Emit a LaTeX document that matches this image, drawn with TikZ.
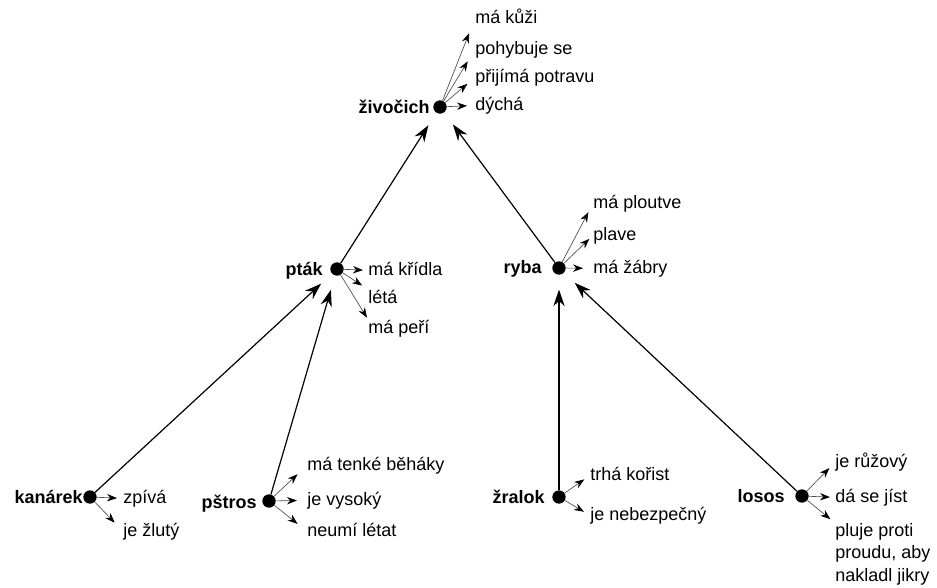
\documentclass[tikz,border=0pt]{standalone}
\usepackage{fontspec}
\setmainfont{Liberation Sans}
\usetikzlibrary{arrows.meta}

\begin{document}
\begin{tikzpicture}[x=0.75pt,y=-0.75pt,font=\fontsize{13.5}{18}\selectfont,
  dot/.style={circle,fill=black,inner sep=0pt,minimum size=10pt},
  objname/.style={font=\fontsize{13.5}{18}\selectfont\bfseries,anchor=base east,inner sep=0pt},
  prop/.style={anchor=base west,inner sep=0pt,text height=10pt,text depth=3pt},
  isa/.style={line width=0.9pt,-{Stealth[length=12.5pt,width=8.5pt]},shorten >=11pt},
  has/.style={line width=0.5pt,draw=black!70,-{Stealth[length=7.5pt,width=5.5pt,color=black]}}]

\useasboundingbox (0,0) rectangle (937,587);

% objekty
\node[dot] (zivocich) at (440,107) {};
\node[dot] (ptak) at (337,269) {};
\node[dot] (ryba) at (559,268) {};
\node[dot] (kanarek) at (90,497) {};
\node[dot] (pstros) at (269,501) {};
\node[dot] (zralok) at (559,497) {};
\node[dot] (losos) at (802,496) {};

\node[objname] (zivocich-n) at (430,113) {živočich};
\node[objname] (ptak-n) at (323,275) {pták};
\node[objname] (ryba-n) at (542,273) {ryba};
\node[objname] (kanarek-n) at (83,503) {kanárek};
\node[objname] (pstros-n) at (257,508) {pštros};
\node[objname] (zralok-n) at (545,503) {žralok};
\node[objname] (losos-n) at (785,502) {losos};

% vlastnosti
\node[prop] (p-kuzi) at (475,23) {má kůži};
\node[prop] (p-pohyb) at (475,54) {pohybuje se};
\node[prop] (p-potrava) at (475,82) {přijímá potravu};
\node[prop] (p-dycha) at (475,110) {dýchá};
\node[prop] (p-kridla) at (368,275) {má křídla};
\node[prop] (p-leta) at (368,303) {létá};
\node[prop] (p-peri) at (368,333) {má peří};
\node[prop] (p-ploutve) at (593,208) {má ploutve};
\node[prop] (p-plave) at (593,240) {plave};
\node[prop] (p-zabry) at (593,273) {má žábry};
\node[prop] (p-zpiva) at (123,503) {zpívá};
\node[prop] (p-zluty) at (123,536) {je žlutý};
\node[prop] (p-behaky) at (307,470) {má tenké běháky};
\node[prop] (p-vysoky) at (307,505) {je vysoký};
\node[prop] (p-nelet) at (307,536) {neumí létat};
\node[prop] (p-korist) at (590,480) {trhá kořist};
\node[prop] (p-nebezp) at (590,520) {je nebezpečný};
\node[prop] (p-ruzovy) at (835,467) {je růžový};
\node[prop] (p-jist) at (835,502) {dá se jíst};
\node[anchor=north west,inner sep=0pt,align=left,font=\fontsize{13.5}{16.8}\selectfont] (p-pluje) at (835,523)
  {pluje proti\\proudu, aby\\nakladl jikry};

% je-druhem sipky
\draw[isa] (ptak) -- (zivocich);
\draw[isa] (ryba) -- (zivocich);
\draw[isa] (kanarek) -- (ptak);
\draw[isa] (pstros) -- (ptak);
\draw[isa] (zralok) -- (ryba);
\draw[isa] (losos) -- (ryba);

\foreach \from/\to/\anc/\s in {zivocich/p-kuzi/west/12pt, zivocich/p-pohyb/west/10.5pt,
    zivocich/p-potrava/west/7.5pt, zivocich/p-dycha/west/6pt,
    ptak/p-kridla/west/3.75pt, ptak/p-leta/north west/5.25pt, ptak/p-peri/north west/1.5pt,
    ryba/p-ploutve/west/7.5pt, ryba/p-plave/west/3.75pt, ryba/p-zabry/west/7.5pt,
    kanarek/p-zpiva/west/4.5pt, kanarek/p-zluty/west/9pt,
    pstros/p-behaky/west/9.75pt, pstros/p-vysoky/west/7.5pt, pstros/p-nelet/west/9pt,
    zralok/p-korist/west/5.25pt, zralok/p-nebezp/west/5.25pt,
    losos/p-ruzovy/west/6pt, losos/p-jist/west/3.75pt, losos/p-pluje/north west/4.5pt}
  \draw[has,shorten >=\s] (\from) -- (\to.\anc);

\end{tikzpicture}
\end{document}
